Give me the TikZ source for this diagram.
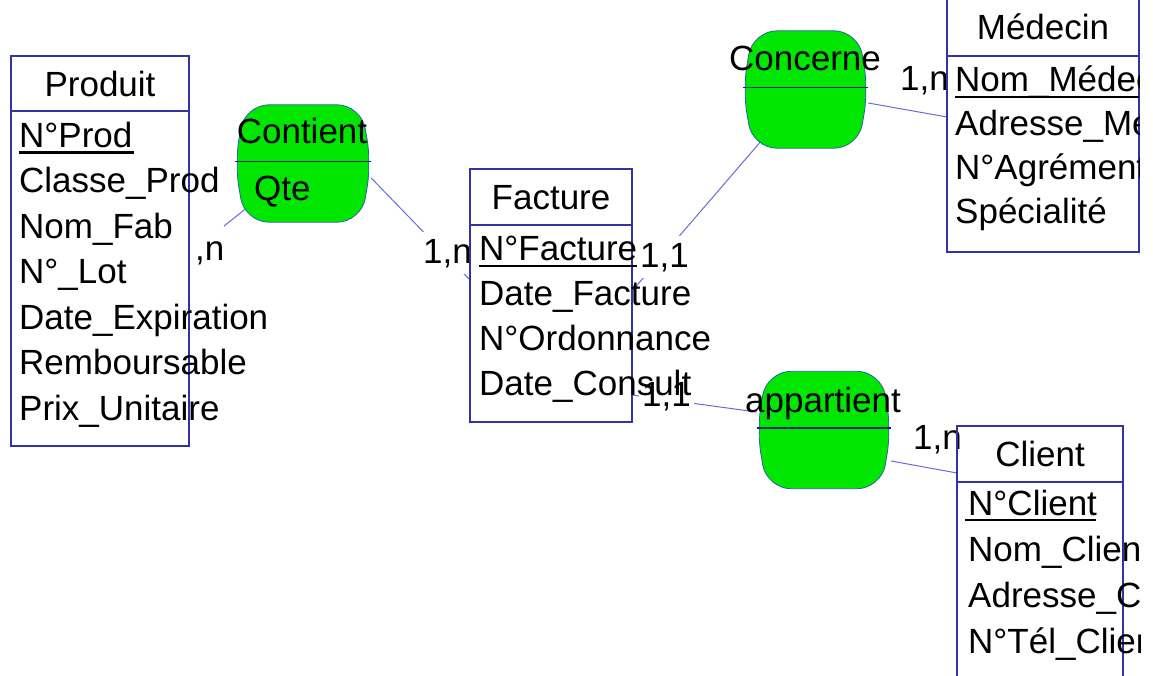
\documentclass[tikz,border=0pt]{standalone}
\usepackage{fontspec}
\setmainfont{Liberation Sans}
\usetikzlibrary{positioning, backgrounds}

\definecolor{relgreen}{RGB}{0,230,0}
\definecolor{boxblue}{RGB}{50,50,165}
\definecolor{linkblue}{RGB}{105,105,220}
\definecolor{relblue}{RGB}{40,100,160}
\definecolor{divblue}{RGB}{20,40,120}

\tikzset{
  entity/.style={draw=boxblue, line width=1.3pt, rectangle, outer sep=0pt, inner sep=0pt},
  enttitle/.style={entity, text height=25pt, text depth=0pt},
  attr/.style={anchor=base west, inner sep=0pt},
  reltext/.style={inner sep=0pt},
  card/.style={anchor=base west, fill=white, inner xsep=3pt, inner ysep=7pt},
  relation/.style={rectangle, inner sep=0pt, minimum height=117pt, minimum width=#1},
  relborder/.style={draw=relblue, line width=0.8pt, fill=relgreen, rounded corners=24pt},
  reldiv/.style={draw=divblue, line width=1.2pt},
  link/.style={draw=linkblue, line width=1pt},
  keyline/.style={line width=2.4pt}
}

\newcommand{\relbarrel}[1]{%
  \draw[relborder] ([xshift=10pt]#1.north west) -- ([xshift=-10pt]#1.north east) -- (#1.east)
    -- ([xshift=-10pt]#1.south east) -- ([xshift=10pt]#1.south west) -- (#1.west) -- cycle;
  \draw[reldiv] ([yshift=2pt]#1.west) -- ([yshift=2pt]#1.east);}

\begin{document}
\begin{tikzpicture}[x=1pt, y=-1pt, font=\fontsize{35pt}{42pt}\selectfont]
  \useasboundingbox (0,0) rectangle (1153,675);

  % entites
  \node[enttitle, minimum width=178pt, minimum height=55pt] (produit-t) at (100,83.5) {Produit};
  \node[entity, minimum width=178pt, minimum height=335pt, below=0pt of produit-t] (produit-b) {};
  \node[enttitle, minimum width=162pt, minimum height=56pt] (facture-t) at (551,197) {Facture};
  \node[entity, minimum width=162pt, minimum height=197pt, below=0pt of facture-t] (facture-b) {};
  \node[enttitle, minimum width=192pt, minimum height=58pt] (medecin-t) at (1043,27) {Médecin};
  \node[entity, minimum width=192pt, minimum height=196pt, below=0pt of medecin-t] (medecin-b) {};
  \node[enttitle, minimum width=166pt, minimum height=56pt] (client-t) at (1040,454) {Client};
  \node[entity, minimum width=166pt, minimum height=208pt, below=0pt of client-t] (client-b) {};

  % associations
  \node[relation=136pt] (contient) at (303,163.5) {};
  \node[relation=125pt] (concerne) at (805.5,89.5) {};
  \node[relation=134pt] (appart) at (824,430) {};

  \coordinate (cn1) at (224,226);

  \begin{scope}[on background layer]
    \fill[white] (0,0) rectangle (1153,675);
    \draw[link] (contient.center) -- (cn1);
    \draw[link] ([yshift=-14.5pt]contient.east) -- ([yshift=43.5pt]facture-b.west);
    \draw[link] (concerne.center) -- ([yshift=32.5pt]facture-b.east);
    \draw[link] ([yshift=-13.5pt]concerne.east) -- ([yshift=37pt]medecin-b.west);
    \draw[link] ([yshift=-71.5pt]facture-b.east) -- ([yshift=18pt]appart.west);
    \draw[link] ([yshift=-31pt]appart.east) -- ([yshift=-19pt]client-t.west);
    % cardinalites
    \node[card] (c1) at (192,260) {,n};
    \node[card] (c2) at (420,263) {1,n};
    \node[card] (c3) at (637,267) {1,1};
    \node[card] (c4) at (639,406) {1,1};
    \node[card] (c5) at (897,90) {1,n};
    \node[card] (c6) at (910,449) {1,n};
    \relbarrel{contient}
    \relbarrel{concerne}
    \relbarrel{appart}
  \end{scope}

  \node[reltext, anchor=base] (contient-n) at (302,143) {Contient};
  \node[reltext, anchor=base west] (qte) at (254,200) {Qte};
  \node[reltext, anchor=base] (concerne-n) at (805,70) {Concerne};
  \node[reltext, anchor=base] (appart-n) at (823,412) {appartient};

  % attributs
  \foreach \a [count=\i from 0] in {N°Prod, Classe\_Prod, Nom\_Fab, N°\_Lot, Date\_Expiration, Remboursable, Prix\_Unitaire}
    \node[attr] (prod-\i) at (19,147+45.5*\i) {\a};
  \draw[keyline] ([yshift=-5.5pt]prod-0.base west) -- ++(115,0);

  \foreach \a [count=\i from 0] in {N°Facture, Date\_Facture, N°Ordonnance, Date\_Consult}
    \node[attr] (fact-\i) at (479,260+45.3*\i) {\a};
  \draw[keyline] ([yshift=-6pt]fact-0.base west) -- ++(158,0);

  \begin{scope}
    \clip (940,0) rectangle (1139,260);
    \foreach \a [count=\i from 0] in {Nom\_Médecin, Adresse\_Médecin, N°Agrément, Spécialité}
      \node[attr] (med-\i) at (955,91+44*\i) {\a};
    \draw[keyline] ([yshift=-6pt]med-0.base west) -- ++(200,0);
  \end{scope}

  \begin{scope}
    \clip (950,480) rectangle (1140,675);
    \foreach \a [count=\i from 0] in {N°Client, Nom\_Client, Adresse\_Client, N°Tél\_Client}
      \node[attr] (cli-\i) at (968,515+46*\i) {\a};
    \draw[keyline] ([yshift=-5pt,xshift=-3pt]cli-0.base west) -- ++(131,0);
  \end{scope}
\end{tikzpicture}
\end{document}
